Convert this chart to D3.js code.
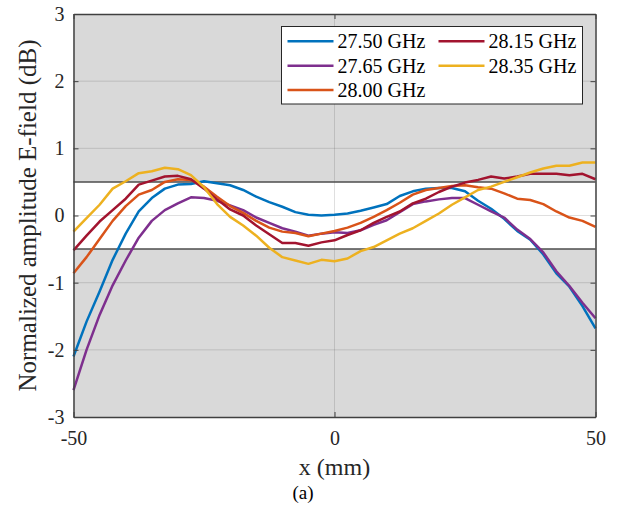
<!DOCTYPE html>
<html>
<head>
<meta charset="utf-8">
<script src="https://cdn.jsdelivr.net/npm/d3@7"></script>
<style>
  body { margin: 0; background: #fff; }
  text { font-family: "Liberation Serif", "Times New Roman", serif; fill: #262626; }
</style>
</head>
<body>
<div id="chart"></div>
<script>
// x positions (mm)
var xs = [-50, -47.5, -45, -42.5, -40, -37.5, -35, -32.5, -30, -27.5, -25, -22.5, -20, -17.5, -15, -12.5, -10, -7.5, -5, -2.5,
          0, 2.5, 5, 7.5, 10, 12.5, 15, 17.5, 20, 22.5, 25, 27.5, 30, 32.5, 35, 37.5, 40, 42.5, 45, 47.5, 50]

var f2750 = [-2.10, -1.58, -1.13, -0.66, -0.27, 0.06, 0.26, 0.40, 0.46, 0.47, 0.51, 0.48, 0.45, 0.38, 0.28, 0.20, 0.13, 0.05, 0.01, 0.00,
             0.01, 0.03, 0.07, 0.12, 0.17, 0.29, 0.36, 0.40, 0.41, 0.41, 0.36, 0.22, 0.10, -0.05, -0.23, -0.36, -0.58, -0.86, -1.06, -1.35, -1.68]
var f2765 = [-2.60, -2.00, -1.48, -1.04, -0.67, -0.33, -0.08, 0.08, 0.18, 0.27, 0.26, 0.22, 0.15, 0.08, -0.03, -0.11, -0.19, -0.24, -0.30, -0.27,
             -0.25, -0.26, -0.22, -0.14, -0.07, 0.05, 0.17, 0.21, 0.24, 0.26, 0.26, 0.16, 0.06, -0.03, -0.21, -0.35, -0.55, -0.83, -1.05, -1.30, -1.53]
var f2800 = [-0.86, -0.62, -0.35, -0.08, 0.14, 0.31, 0.38, 0.50, 0.54, 0.53, 0.43, 0.28, 0.14, 0.04, -0.08, -0.18, -0.24, -0.26, -0.31, -0.27,
             -0.23, -0.18, -0.11, -0.02, 0.08, 0.19, 0.31, 0.38, 0.41, 0.44, 0.45, 0.42, 0.40, 0.33, 0.25, 0.23, 0.17, 0.06, -0.03, -0.08, -0.17]
var f2815 = [-0.52, -0.30, -0.09, 0.08, 0.25, 0.46, 0.52, 0.58, 0.59, 0.54, 0.40, 0.24, 0.09, 0.00, -0.15, -0.28, -0.41, -0.41, -0.45, -0.40,
             -0.37, -0.29, -0.22, -0.11, -0.02, 0.06, 0.18, 0.25, 0.35, 0.43, 0.49, 0.53, 0.58, 0.55, 0.58, 0.62, 0.62, 0.62, 0.60, 0.62, 0.54]
var f2835 = [-0.24, -0.04, 0.16, 0.40, 0.51, 0.63, 0.66, 0.71, 0.69, 0.60, 0.42, 0.17, -0.02, -0.15, -0.30, -0.48, -0.62, -0.67, -0.72, -0.66,
             -0.68, -0.64, -0.53, -0.47, -0.37, -0.27, -0.19, -0.08, 0.03, 0.16, 0.27, 0.38, 0.43, 0.50, 0.57, 0.64, 0.70, 0.74, 0.74, 0.79, 0.79]

var labels = ["27.50 GHz", "27.65 GHz", "28.00 GHz", "28.15 GHz", "28.35 GHz"]
var colors = ["#0072BD", "#7E2F8E", "#D95319", "#A2142F", "#EDB120"]
var series = [f2750, f2765, f2800, f2815, f2835]

var xTicks = [-50, 0, 50]
var yTicks = [-3, -2, -1, 0, 1, 2, 3]
var band = [-0.5, 0.5]

var margin = {top: 14, right: 27.5, bottom: 89, left: 73.5}
var width = 623 - margin.left - margin.right
var height = 506 - margin.top - margin.bottom

var svg = d3.select("#chart").append("svg")
    .attr("width", 623)
    .attr("height", 506)
var g = svg.append("g")
    .attr("transform", "translate(" + margin.left + "," + margin.top + ")")

var x = d3.scaleLinear().domain([-50, 50]).range([0, width])
var y = d3.scaleLinear().domain([-3, 3]).range([height, 0])

// gray background, white band in the middle
g.append("rect")
    .attr("width", width).attr("height", height)
    .style("fill", "#d9d9d9")
g.append("rect")
    .attr("x", 0).attr("y", y(band[1]))
    .attr("width", width).attr("height", y(band[0]) - y(band[1]))
    .style("fill", "#fff")

// grid
g.selectAll(".gy").data(yTicks.slice(1, -1)).enter().append("line")
    .attr("x1", 0).attr("x2", width)
    .attr("y1", function(d) { return y(d) }).attr("y2", function(d) { return y(d) })
    .style("stroke", "#262626").style("stroke-opacity", 0.15).style("stroke-width", 1)
g.append("line")
    .attr("x1", x(0)).attr("x2", x(0)).attr("y1", 0).attr("y2", height)
    .style("stroke", "#262626").style("stroke-opacity", 0.15).style("stroke-width", 1)

// band edges
g.selectAll(".band").data(band).enter().append("line")
    .attr("x1", 0).attr("x2", width)
    .attr("y1", function(d) { return y(d) }).attr("y2", function(d) { return y(d) })
    .style("stroke", "#4d4d4d").style("stroke-width", 1.5)

// curves
var line = d3.line()
    .x(function(d, i) { return x(xs[i]) })
    .y(function(d) { return y(d) })

g.selectAll(".curve").data(series).enter().append("path")
    .attr("d", line)
    .style("fill", "none")
    .style("stroke", function(d, i) { return colors[i] })
    .style("stroke-width", 2.5)
    .style("stroke-linejoin", "round")

// axes (ticks inside, box)
var fmt = function(d) { return String(d) }
g.append("g")
    .attr("transform", "translate(0," + height + ")")
    .call(d3.axisBottom(x).tickValues(xTicks).tickSizeInner(-5).tickSizeOuter(0).tickPadding(14).tickFormat(fmt))
g.append("g")
    .call(d3.axisTop(x).tickValues(xTicks).tickSizeInner(-5).tickSizeOuter(0).tickFormat(""))
g.append("g")
    .call(d3.axisLeft(y).tickValues(yTicks).tickSizeInner(-5).tickSizeOuter(0).tickPadding(9).tickFormat(fmt))
g.append("g")
    .attr("transform", "translate(" + width + ",0)")
    .call(d3.axisRight(y).tickValues(yTicks).tickSizeInner(-5).tickSizeOuter(0).tickFormat(""))

g.selectAll(".domain").style("stroke", "#404040").style("stroke-width", 1.5)
g.selectAll(".tick line").style("stroke", "#404040")
g.selectAll(".tick text")
    .style("font-family", "'Liberation Serif', serif")
    .style("font-size", "20px")
    .style("fill", "#262626")

// axis labels
svg.append("text")
    .attr("x", margin.left + x(0)).attr("y", 475)
    .attr("text-anchor", "middle")
    .style("font-size", "24px")
    .text("x (mm)")
svg.append("text")
    .attr("transform", "translate(36," + (margin.top + height / 2) + ") rotate(-90)")
    .attr("text-anchor", "middle")
    .style("font-size", "25px")
    .text("Normalized amplitude E-field (dB)")
svg.append("text")
    .attr("x", 303).attr("y", 499)
    .attr("text-anchor", "middle")
    .style("font-size", "19px")
    .style("fill", "#000")
    .text("(a)")

// legend, two columns filled column-wise
var legend = svg.append("g").attr("transform", "translate(281.5,26.5)")
legend.append("rect")
    .attr("width", 301).attr("height", 77.5)
    .style("fill", "#fff").style("stroke", "#262626").style("stroke-width", 1)

var items = legend.selectAll(".item").data(labels).enter().append("g")
    .attr("transform", function(d, i) {
        var col = i < 3 ? 0 : 1
        var row = i < 3 ? i : i - 3
        return "translate(" + (col * 151 + 6) + "," + (14.8 + row * 24.4) + ")"
    })
items.append("line")
    .attr("x1", 0).attr("x2", 46)
    .style("stroke", function(d, i) { return colors[i] })
    .style("stroke-width", 2.5)
items.append("text")
    .attr("x", 50).attr("dy", "0.35em")
    .style("font-size", "20px")
    .style("fill", "#000")
    .text(function(d) { return d })
</script>
</body>
</html>
